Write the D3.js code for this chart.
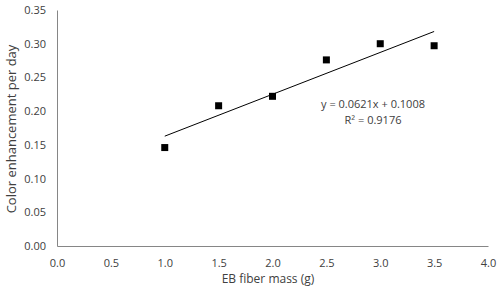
<!DOCTYPE html>
<html><head><meta charset="utf-8">
<script src="https://cdn.jsdelivr.net/npm/d3@7"></script>
<style>body{margin:0;background:#fff}text{font-family:"Open Sans",Lato,sans-serif}</style>
</head><body><svg id="c" width="500" height="300"></svg>
<script>
const xValues = [1.0, 1.5, 2.0, 2.5, 3.0, 3.5];
const yValues = [0.146, 0.208, 0.222, 0.276, 0.300, 0.297];
const xTicks = [0, 0.5, 1, 1.5, 2, 2.5, 3, 3.5, 4];
const yTicks = [0, 0.05, 0.10, 0.15, 0.20, 0.25, 0.30, 0.35];
const slope = 0.0621, intercept = 0.1008;
const eqLabel = "y = 0.0621x + 0.1008";
const r2Label = "R² = 0.9176";
const xTitle = "EB fiber mass (g)";
const yTitle = "Color enhancement per day";

const svg = d3.select("#c");
const x = d3.scaleLinear().domain([0, 4]).range([57, 488]);
const y = d3.scaleLinear().domain([0, 0.35]).range([246, 10]);
const axCol = "#868686", txtCol = "#404040";

const xa = svg.append("g").attr("transform", "translate(0,246)")
  .call(d3.axisBottom(x).tickValues(xTicks).tickFormat(d3.format(".1f")).tickSize(0).tickPadding(13));
const ya = svg.append("g").attr("transform", "translate(57,0)")
  .call(d3.axisLeft(y).tickValues(yTicks).tickFormat(d3.format(".2f")).tickSize(0).tickPadding(11));
[xa, ya].forEach(a => {
  a.select(".domain").attr("stroke", axCol).attr("stroke-width", 1);
  a.selectAll("text").attr("fill", txtCol).style("font-size", "11px");
});

svg.append("line")
  .attr("x1", x(xValues[0])).attr("y1", y(slope * xValues[0] + intercept))
  .attr("x2", x(xValues[xValues.length - 1])).attr("y2", y(slope * xValues[xValues.length - 1] + intercept))
  .attr("stroke", "#000").attr("stroke-width", 1);

const s = 7;
svg.selectAll("rect.pt").data(xValues).enter().append("rect").attr("class", "pt")
  .attr("x", (d) => x(d) - s / 2).attr("y", (d, i) => y(yValues[i]) - s / 2)
  .attr("width", s).attr("height", s).attr("fill", "#000");

svg.append("text").attr("x", 373).attr("y", 108).attr("text-anchor", "middle")
  .attr("fill", txtCol).style("font-size", "11px").text(eqLabel);
svg.append("text").attr("x", 373).attr("y", 124).attr("text-anchor", "middle")
  .attr("fill", txtCol).style("font-size", "11px").text(r2Label);

svg.append("text").attr("x", 268).attr("y", 283).attr("text-anchor", "middle")
  .attr("fill", txtCol).style("font-size", "12px").text(xTitle);
svg.append("text").attr("transform", "translate(16,129) rotate(-90)").attr("text-anchor", "middle")
  .attr("fill", txtCol).style("font-size", "13px").text(yTitle);
</script></body></html>
